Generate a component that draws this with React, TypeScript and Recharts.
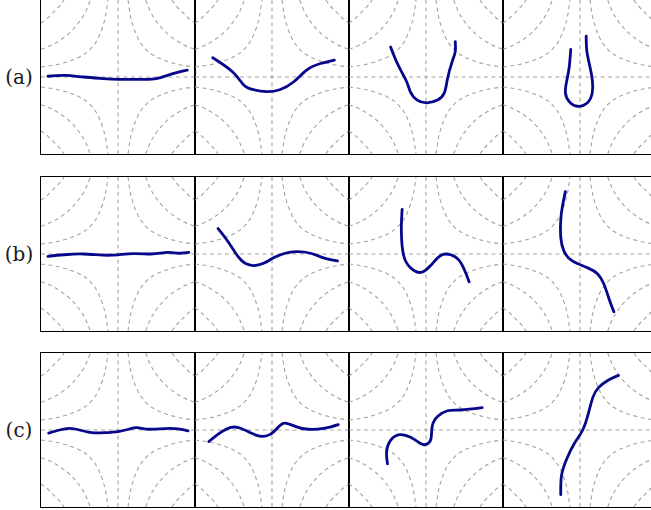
import React from "react";
import { LineChart, Line, XAxis, YAxis, ReferenceLine } from "recharts";

type Pt = { x: number; y: number };
type Pair = [number, number];

const rowLabels = ["(a)", "(b)", "(c)"];

// background saddle contours, first quadrant only (x, y)
const contourInner: Pair[] = [[0.13, 1], [0.16, 0.8], [0.2, 0.65], [0.26, 0.5], [0.36, 0.36], [0.5, 0.26], [0.65, 0.2], [0.8, 0.16], [1, 0.13]];
const contourMiddle: Pair[] = [[0.36, 1], [0.42, 0.85], [0.5, 0.72], [0.6, 0.6], [0.72, 0.5], [0.85, 0.42], [1, 0.36]];
const contourOuter: Pair[] = [[0.7, 1], [0.76, 0.92], [0.84, 0.84], [0.92, 0.76], [1, 0.7]];

// blue trajectories, one per panel, in panel units (-1..1)
const curveA1: Pair[] = [[-0.91, 0.01], [-0.69, 0.02], [-0.45, 0.0], [-0.2, -0.02], [0, -0.03], [0.3, -0.03], [0.5, -0.02], [0.7, 0.04], [0.9, 0.09]];
const curveA2: Pair[] = [[-0.77, 0.25], [-0.51, 0.065], [-0.37, -0.1], [-0.24, -0.165], [-0.07, -0.19], [0.1, -0.165], [0.28, -0.065], [0.45, 0.09], [0.63, 0.175], [0.81, 0.22]];
const curveA3: Pair[] = [[-0.46, 0.39], [-0.36, 0.15], [-0.25, -0.065], [-0.2, -0.2], [-0.115, -0.3], [0.01, -0.335], [0.15, -0.3], [0.24, -0.2], [0.28, -0.02], [0.34, 0.2], [0.38, 0.33], [0.38, 0.46]];
const curveA4: Pair[] = [[-0.12, 0.36], [-0.14, 0.13], [-0.17, -0.04], [-0.19, -0.2], [-0.14, -0.32], [-0.03, -0.38], [0.1, -0.33], [0.16, -0.2], [0.16, -0.04], [0.13, 0.13], [0.09, 0.33], [0.08, 0.53]];

const curveB1: Pair[] = [[-0.91, -0.03], [-0.7, -0.01], [-0.45, 0], [-0.2, -0.015], [0, -0.01], [0.2, 0.005], [0.42, 0], [0.55, 0.01], [0.66, 0.02], [0.8, 0.01], [0.92, 0.02]];
const curveB2: Pair[] = [[-0.7, 0.33], [-0.57, 0.16], [-0.44, -0.035], [-0.35, -0.12], [-0.24, -0.15], [-0.11, -0.12], [0.02, -0.05], [0.17, 0.01], [0.32, 0.03], [0.5, 0.01], [0.67, -0.05], [0.85, -0.09]];
const curveB3: Pair[] = [[-0.31, 0.58], [-0.32, 0.3], [-0.29, -0.02], [-0.2, -0.18], [-0.07, -0.24], [0.06, -0.15], [0.19, -0.02], [0.32, -0.01], [0.45, -0.11], [0.56, -0.36]];
const curveB4: Pair[] = [[-0.19, 0.81], [-0.23, 0.61], [-0.25, 0.44], [-0.25, 0.22], [-0.21, 0.04], [-0.1, -0.09], [0.1, -0.18], [0.23, -0.26], [0.31, -0.39], [0.38, -0.59], [0.44, -0.75]];

const curveC1: Pair[] = [[-0.9, -0.04], [-0.76, 0], [-0.63, 0.02], [-0.5, 0], [-0.34, -0.035], [-0.17, -0.035], [0, -0.02], [0.14, 0.01], [0.25, 0.03], [0.42, 0.01], [0.68, 0.02], [0.91, -0.01]];
const curveC2: Pair[] = [[-0.82, -0.15], [-0.68, -0.04], [-0.53, 0.035], [-0.4, 0.02], [-0.27, -0.04], [-0.16, -0.08], [-0.03, -0.06], [0.08, 0.035], [0.17, 0.09], [0.32, 0.04], [0.47, 0.01], [0.67, 0.02], [0.86, 0.07]];
const curveC3: Pair[] = [[-0.5, -0.44], [-0.51, -0.26], [-0.44, -0.11], [-0.33, -0.06], [-0.2, -0.095], [-0.07, -0.175], [-0.01, -0.19], [0.06, -0.13], [0.08, 0.045], [0.15, 0.175], [0.28, 0.25], [0.45, 0.26], [0.73, 0.29]];
const curveC4: Pair[] = [[-0.25, -0.84], [-0.24, -0.59], [-0.17, -0.37], [-0.07, -0.17], [0.035, 0], [0.11, 0.22], [0.166, 0.42], [0.24, 0.55], [0.37, 0.65], [0.5, 0.71]];

const rows: Pair[][][] = [
  [curveA1, curveA2, curveA3, curveA4],
  [curveB1, curveB2, curveB3, curveB4],
  [curveC1, curveC2, curveC3, curveC4],
];

const SIZE = 154;
const LEFT = 41;
const rowTops = [0, 177, 353];

const toPts = (pairs: Pair[]): Pt[] => pairs.map(([x, y]) => ({ x, y }));

// mirror each quadrant contour into all four quadrants
const contours: Pt[][] = [];
[contourInner, contourMiddle, contourOuter].forEach((c) => {
  [[1, 1], [-1, 1], [1, -1], [-1, -1]].forEach(([sx, sy]) => {
    contours.push(
      c.map(([x, y]) => ({ x: sx * x, y: sy * y })).sort((p, q) => p.x - q.x)
    );
  });
});

const gridStroke = "#a4a4a4";
const dash = "4 3.5";

function Panel({ curve, left, top }: { curve: Pair[]; left: number; top: number }) {
  return (
    <div style={{ position: "absolute", left, top, width: SIZE, height: SIZE }}>
      <LineChart width={SIZE} height={SIZE} margin={{ top: 0, right: 0, bottom: 0, left: 0 }}>
        <XAxis type="number" dataKey="x" domain={[-1, 1]} hide allowDataOverflow />
        <YAxis type="number" domain={[-1, 1]} hide allowDataOverflow />
        <ReferenceLine x={0} stroke={gridStroke} strokeDasharray={dash} strokeWidth={1.1} />
        <ReferenceLine y={0} stroke={gridStroke} strokeDasharray={dash} strokeWidth={1.1} />
        {contours.map((c, i) => (
          <Line
            key={i}
            data={c}
            dataKey="y"
            type="monotone"
            stroke={gridStroke}
            strokeWidth={1.1}
            strokeDasharray={dash}
            dot={false}
            isAnimationActive={false}
          />
        ))}
        <Line
          data={toPts(curve)}
          dataKey="y"
          type="natural"
          stroke="#07078c"
          strokeWidth={2.8}
          strokeLinecap="round"
          strokeLinejoin="round"
          dot={false}
          isAnimationActive={false}
        />
      </LineChart>
      <div
        style={{
          position: "absolute",
          left: -0.8,
          top: -0.8,
          width: SIZE + 1.6,
          height: SIZE + 1.6,
          border: "1.6px solid #000",
          boxSizing: "border-box",
          pointerEvents: "none",
        }}
      />
    </div>
  );
}

export default function App() {
  return (
    <div
      style={{
        position: "absolute",
        left: 0,
        top: 0,
        width: 651,
        height: 510,
        overflow: "hidden",
        background: "#fff",
      }}
    >
      {rows.map((row, r) => (
        <React.Fragment key={r}>
          <div
            style={{
              position: "absolute",
              left: 0,
              top: rowTops[r] + SIZE / 2 - 14,
              width: 38,
              height: 28,
              lineHeight: "28px",
              textAlign: "center",
              fontFamily: "'DejaVu Serif', serif",
              fontSize: 20,
              color: "#1a1a1a",
            }}
          >
            {rowLabels[r]}
          </div>
          {row.map((curve, c) => (
            <Panel key={c} curve={curve} left={LEFT + c * SIZE} top={rowTops[r]} />
          ))}
        </React.Fragment>
      ))}
    </div>
  );
}
